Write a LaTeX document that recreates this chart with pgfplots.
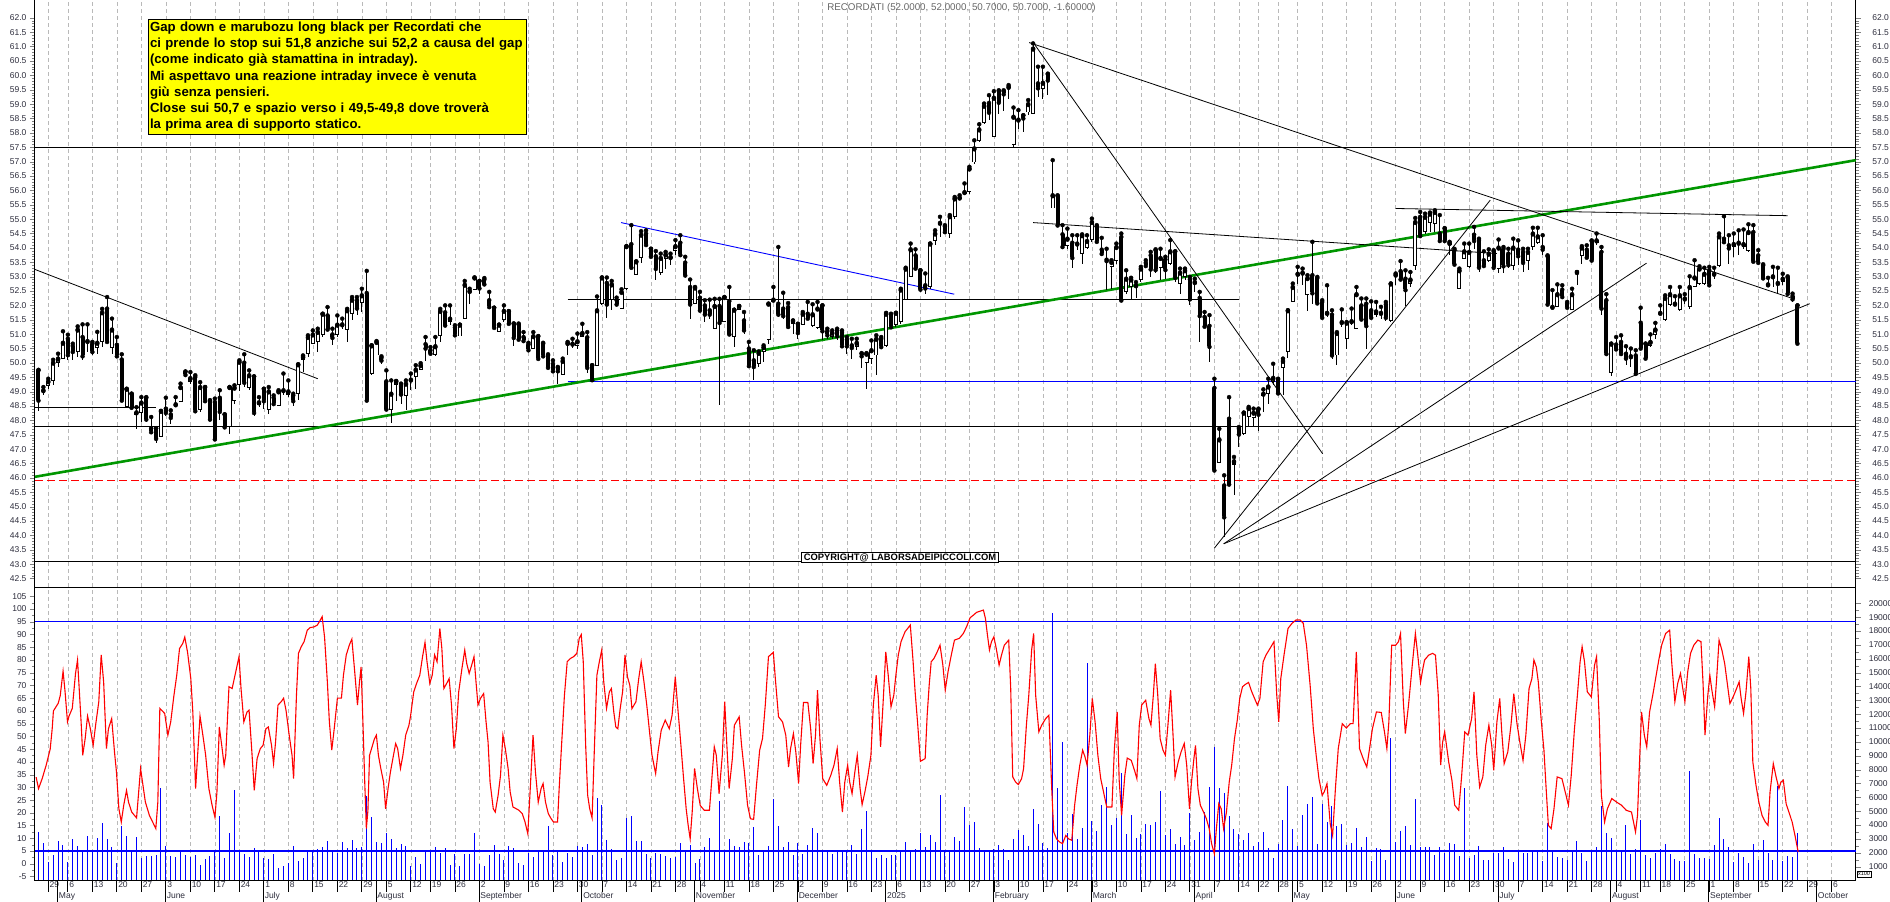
\documentclass[border=0pt]{standalone}
\usepackage{fontspec}
\setmainfont{Liberation Sans}
\usepackage{pgfplots}
\usepackage{pgfplotstable}
\pgfplotsset{compat=1.18}

\definecolor{gridgray}{RGB}{185,185,185}
\definecolor{ticktext}{RGB}{45,45,60}
\definecolor{trendgreen}{RGB}{0,150,0}
\definecolor{annoyellow}{RGB}{255,255,0}

\pgfplotsset{
  every tick label/.append style={font=\fontsize{8.5}{9}\selectfont, text=ticktext},
  /pgf/number format/assume math mode=true,
  panel/.style={at={(35pt,#1)}, anchor=south west, scale only axis,
    width=1820.7pt, xmin=-2.71, xmax=368.9},
}

% daily candles: trading day index, open, high, low, close
\pgfplotstableread{
x o h l c
-2 49.74 49.76 48.33 48.72
-1 49.05 49.16 48.87 49.05
0 49.21 49.45 49.10 49.36
1 49.36 50.11 49.22 50.01
2 50.01 50.32 49.86 50.15
3 50.15 51.10 50.15 50.70
4 50.84 50.98 50.11 50.30
5 50.59 50.67 50.09 50.41
6 50.38 51.27 50.21 51.16
7 50.90 51.34 50.09 50.26
8 50.76 51.34 50.38 50.76
9 50.67 50.73 50.26 50.41
10 50.53 51.08 50.30 50.70
11 50.73 51.88 50.55 51.76
12 51.89 52.29 50.76 50.76
13 50.52 51.54 50.30 51.16
14 50.63 50.90 50.21 50.26
15 50.12 50.30 48.66 48.72
16 48.47 49.10 48.47 49.10
17 48.93 48.93 48.47 48.47
18 48.20 48.46 47.71 48.28
19 48.27 48.81 47.94 48.62
20 48.79 48.81 47.94 48.06
21 47.73 48.12 47.62 47.62
22 47.73 47.73 47.21 47.39
23 47.42 48.33 47.42 48.33
24 48.41 48.79 48.17 48.29
25 48.21 48.35 47.88 48.12
26 48.56 48.81 48.47 48.56
27 48.64 49.28 48.64 49.16
28 49.70 49.70 49.57 49.61
29 49.34 49.68 49.28 49.47
30 49.51 49.57 48.35 48.35
31 48.35 49.33 48.29 49.16
32 49.16 49.16 48.70 48.70
33 48.70 48.70 48.00 48.06
34 48.64 48.76 47.35 47.37
35 48.79 49.05 48.00 48.33
36 48.21 48.21 47.71 47.79
37 47.77 49.16 47.54 49.16
38 48.67 49.22 48.58 49.14
39 49.24 50.09 49.02 50.04
40 50.01 50.30 49.16 49.34
41 49.14 49.74 49.05 49.57
42 49.53 49.53 48.14 48.29
43 48.52 48.81 48.47 48.63
44 49.10 49.10 48.41 48.70
45 48.35 49.16 48.23 49.01
46 48.79 48.87 48.53 48.60
47 48.50 49.05 48.50 49.01
48 49.05 49.63 48.87 49.05
49 48.89 49.39 48.81 49.01
50 48.87 48.93 48.50 48.70
51 48.93 49.95 48.72 49.95
52 50.09 50.26 49.68 50.21
53 50.32 50.96 50.21 50.90
54 50.67 51.13 50.67 50.99
55 50.73 51.19 50.38 51.08
56 50.96 51.71 50.90 51.71
57 51.65 51.94 51.19 51.19
58 50.99 51.19 50.61 50.90
59 50.96 51.65 50.90 51.33
60 51.34 51.54 51.19 51.34
61 51.16 51.88 50.73 51.83
62 51.71 52.29 51.48 52.20
63 52.18 52.29 51.65 51.92
64 52.08 52.58 51.77 52.35
65 52.43 53.20 48.64 48.72
66 49.60 50.61 49.57 50.61
67 50.26 50.76 50.26 50.73
68 50.18 50.23 49.97 50.11
69 49.36 49.74 48.33 48.41
70 48.35 49.39 47.91 48.93
71 49.24 49.37 48.67 49.37
72 49.20 49.28 48.58 48.93
73 48.85 49.39 48.35 49.28
74 49.42 49.63 49.05 49.42
75 49.51 49.92 49.10 49.77
76 49.77 49.99 49.74 49.92
77 50.65 50.90 50.07 50.53
78 50.44 50.55 50.32 50.35
79 50.29 50.90 50.23 50.58
80 50.94 51.88 50.73 51.81
81 51.76 52.00 51.33 51.33
82 51.42 52.00 51.31 51.54
83 51.24 51.31 50.90 50.99
84 50.92 51.33 50.92 51.33
85 51.54 52.85 51.54 52.72
86 52.50 52.58 52.06 52.50
87 52.55 52.97 52.53 52.97
88 52.85 52.85 52.41 52.62
89 52.90 52.95 52.70 52.76
90 52.18 52.47 51.95 51.97
91 51.92 51.92 51.25 51.25
92 51.08 51.33 51.08 51.33
93 51.48 52.00 51.42 51.81
94 51.80 51.80 51.39 51.39
95 51.37 51.37 50.59 50.90
96 51.34 51.37 50.79 50.84
97 50.90 51.07 50.79 50.79
98 50.64 50.70 50.47 50.47
99 50.50 51.07 50.50 50.93
100 50.93 50.93 50.17 50.17
101 50.67 50.70 50.26 50.26
102 50.26 50.30 49.86 49.86
103 49.97 50.09 49.68 49.74
104 49.83 49.86 49.28 49.74
105 49.59 50.15 49.59 50.07
106 50.69 50.73 50.26 50.69
107 50.67 50.84 50.53 50.67
108 50.58 51.02 50.50 50.75
109 50.90 51.36 50.90 51.04
110 50.89 51.07 49.65 49.86
111 49.92 49.92 49.43 49.43
112 49.89 52.31 49.89 51.83
113 52.06 52.97 52.00 52.97
114 52.78 52.97 51.57 52.06
115 52.20 52.85 51.83 52.73
116 52.18 52.27 52.00 52.06
117 51.89 52.56 51.89 52.47
118 52.56 54.06 52.53 54.06
119 54.13 54.79 53.34 53.34
120 53.05 53.53 53.05 53.53
121 53.65 54.58 53.48 54.46
122 54.50 54.61 54.09 54.13
123 53.97 53.97 53.72 53.72
124 53.71 53.89 52.87 53.30
125 53.14 53.80 53.05 53.65
126 53.63 53.86 53.28 53.77
127 53.68 53.80 53.40 53.68
128 53.89 54.27 53.74 54.06
129 54.18 54.44 53.78 53.78
130 53.49 53.69 53.02 53.07
131 52.64 52.90 51.54 52.06
132 52.06 52.64 52.06 52.62
133 52.27 52.47 51.83 51.85
134 52.00 52.18 51.42 51.71
135 51.83 52.20 51.54 51.71
136 51.19 52.23 51.19 51.98
137 51.98 52.23 48.52 51.42
138 51.42 52.29 51.42 52.29
139 52.15 52.64 51.02 51.02
140 50.90 51.85 50.55 51.85
141 51.85 51.98 51.85 51.98
142 51.48 51.77 50.99 51.16
143 50.50 50.73 49.92 49.92
144 50.09 50.44 49.39 49.89
145 49.95 50.40 49.86 50.35
146 50.38 50.61 50.03 50.55
147 50.81 52.06 50.67 52.06
148 52.12 52.64 52.12 52.20
149 52.06 54.03 51.60 51.71
150 51.89 52.44 51.54 51.66
151 51.94 52.08 51.17 51.28
152 51.34 51.48 51.02 51.46
153 51.36 51.36 50.84 51.07
154 51.33 51.77 51.31 51.71
155 51.71 52.12 51.54 51.57
156 51.28 52.04 51.25 51.69
157 51.23 52.12 51.19 51.89
158 52.00 52.00 50.78 51.13
159 51.11 51.19 50.84 50.99
160 50.90 51.13 50.84 51.05
161 51.13 51.19 50.78 50.96
162 51.07 51.13 50.55 50.61
163 50.81 50.90 50.32 50.61
164 50.61 50.84 50.15 50.55
165 50.55 50.84 50.44 50.70
166 50.32 50.34 49.83 50.26
167 50.01 50.34 49.10 50.32
168 50.15 50.78 49.97 50.44
169 50.26 50.96 49.57 50.84
170 50.84 50.90 50.55 50.58
171 50.58 51.74 50.55 51.71
172 51.69 51.71 51.19 51.27
173 51.33 51.74 51.25 51.74
174 51.42 52.58 51.36 52.55
175 52.18 53.31 52.18 53.28
176 52.99 54.15 52.99 53.95
177 53.74 53.95 53.25 53.31
178 53.22 53.22 52.47 52.58
179 52.70 53.11 52.41 52.62
180 52.64 54.15 52.58 54.15
181 54.24 54.61 54.09 54.50
182 54.79 55.08 54.38 54.87
183 54.75 54.79 54.50 54.58
184 54.50 55.14 54.36 55.10
185 55.08 55.77 55.02 55.72
186 55.75 55.83 55.66 55.75
187 55.86 56.24 55.83 55.94
188 55.95 56.82 55.89 56.76
189 56.97 57.74 56.93 57.46
190 57.72 58.30 57.69 58.12
191 58.36 59.02 58.30 58.94
192 59.04 59.31 58.46 58.73
193 57.86 59.45 57.86 59.22
194 59.46 59.48 58.65 59.08
195 59.45 59.48 58.77 59.37
196 59.60 59.66 59.19 59.60
197 57.57 58.88 57.51 58.56
198 58.46 58.79 58.15 58.46
199 58.61 58.61 58.03 58.53
200 58.71 59.14 58.62 59.00
201 58.67 61.11 58.67 60.93
202 59.72 60.30 59.25 59.58
203 59.54 60.30 59.19 59.74
204 60.04 60.06 59.31 59.85
205 55.37 57.05 55.37 55.83
206 55.81 55.83 54.73 54.81
207 54.47 54.79 54.03 54.06
208 54.06 54.67 53.97 54.32
209 54.18 54.44 53.31 53.68
210 54.15 54.44 53.92 54.15
211 53.80 54.47 53.45 54.44
212 54.01 54.44 53.97 54.24
213 54.27 55.02 54.21 54.90
214 54.75 54.79 54.21 54.24
215 53.94 54.35 53.80 53.82
216 53.59 53.97 52.55 53.57
217 53.33 53.57 52.58 53.51
218 53.53 54.15 53.45 54.03
219 54.38 54.50 52.12 52.20
220 52.47 53.22 52.41 52.93
221 52.64 52.96 52.24 52.90
222 52.70 52.81 52.26 52.70
223 52.87 53.34 52.81 53.28
224 53.48 53.57 53.34 53.40
225 53.74 53.86 52.99 53.28
226 53.92 53.95 53.11 53.26
227 53.31 53.97 52.87 53.65
228 53.60 53.69 52.93 53.26
229 53.45 54.27 53.40 53.88
230 53.88 53.88 52.81 52.99
231 52.73 53.28 52.41 53.14
232 52.99 53.28 52.87 53.22
233 52.91 52.99 52.03 52.24
234 52.73 52.93 52.47 52.81
235 52.26 52.47 50.73 51.66
236 51.60 51.77 51.25 51.29
237 51.29 51.66 50.03 50.59
238 49.13 49.45 46.29 46.29
239 46.53 47.71 46.53 47.34
240 45.74 46.09 43.94 44.66
241 48.06 48.81 45.80 45.80
242 46.46 46.73 45.41 46.58
243 47.71 47.77 47.07 47.54
244 47.54 48.27 47.48 48.27
245 48.12 48.47 47.77 48.43
246 48.10 48.41 47.77 48.27
247 48.39 48.41 47.62 48.23
248 48.85 49.08 48.29 48.93
249 48.93 49.45 48.58 49.18
250 49.34 49.97 49.22 49.48
251 49.43 49.45 48.87 48.97
252 49.82 50.15 48.87 50.07
253 50.38 51.83 50.17 51.83
254 52.12 52.76 52.12 52.64
255 53.01 53.34 52.76 53.10
256 53.14 53.28 52.70 53.14
257 52.35 53.05 51.80 52.95
258 53.05 54.21 52.06 52.45
259 52.95 52.99 52.06 52.10
260 52.12 52.18 51.60 51.60
261 51.66 52.70 51.60 51.74
262 51.68 51.83 50.12 50.29
263 50.26 51.07 49.94 51.04
264 51.42 51.86 51.25 51.42
265 50.82 51.42 50.50 51.40
266 51.45 51.89 51.31 51.45
267 51.17 52.64 51.17 52.39
268 52.00 52.24 51.54 51.54
269 52.06 52.24 50.47 51.31
270 51.83 52.14 51.54 51.60
271 51.68 52.12 51.60 51.79
272 51.74 51.95 51.54 51.74
273 52.04 52.12 51.45 51.60
274 51.45 52.76 51.42 52.76
275 53.07 53.11 52.70 53.07
276 53.19 53.54 52.87 52.93
277 52.93 53.22 51.98 52.56
278 52.76 53.16 52.64 52.90
279 53.36 55.04 53.22 54.90
280 55.08 55.25 54.38 54.44
281 54.56 55.19 54.50 55.08
282 54.88 55.23 54.55 55.19
283 54.82 55.31 54.55 55.25
284 54.50 55.14 54.27 54.27
285 54.67 54.69 54.21 54.27
286 54.09 54.21 53.74 54.17
287 53.92 53.97 53.40 53.45
288 52.56 53.28 52.56 53.22
289 53.63 54.15 53.60 53.88
290 53.34 54.15 53.31 53.86
291 54.46 54.73 53.95 54.27
292 54.27 54.32 53.16 53.34
293 53.57 53.88 53.34 53.40
294 53.53 53.95 53.51 53.80
295 53.88 53.92 53.31 53.34
296 53.28 54.29 53.11 54.01
297 53.97 54.03 53.11 53.39
298 53.80 53.97 53.31 53.43
299 53.36 54.32 53.24 54.01
300 53.94 54.26 53.40 53.74
301 53.86 53.97 53.16 53.51
302 53.55 53.97 53.22 53.86
303 54.03 54.70 53.92 54.50
304 54.17 54.70 54.13 54.40
305 54.03 54.44 53.74 53.97
306 53.71 53.74 52.04 52.06
307 51.95 52.53 51.92 51.95
308 51.95 52.73 51.95 52.39
309 52.55 52.70 52.29 52.32
310 52.06 52.12 51.92 51.95
311 51.85 52.58 51.83 52.39
312 53.16 53.16 52.70 53.16
313 53.71 54.06 53.43 54.01
314 53.94 54.09 53.63 53.69
315 54.24 54.26 53.57 53.59
316 54.17 54.50 54.09 54.26
317 53.86 54.03 51.66 51.92
318 52.18 52.39 50.34 50.34
319 49.65 50.67 49.53 50.67
320 50.64 50.90 50.46 50.50
321 50.73 50.96 50.34 50.34
322 50.32 50.58 49.92 50.18
323 50.23 50.50 49.86 50.23
324 50.26 50.44 49.63 49.65
325 51.40 51.92 50.53 50.53
326 50.67 50.67 50.11 50.18
327 50.58 50.99 50.55 50.73
328 50.96 51.39 50.84 51.16
329 51.74 52.00 51.69 51.74
330 51.48 52.35 51.45 52.26
331 52.00 52.64 51.97 52.39
332 52.00 52.32 51.97 52.06
333 51.83 52.64 51.80 52.35
334 52.24 52.39 52.06 52.24
335 51.95 53.01 51.89 52.64
336 52.64 53.57 52.64 52.97
337 52.73 53.36 52.70 53.28
338 52.73 53.31 52.70 53.10
339 53.22 53.34 52.70 52.73
340 53.04 53.31 52.93 53.10
341 53.36 54.50 53.34 54.40
342 54.32 55.10 54.21 54.23
343 54.09 54.44 53.43 54.01
344 54.04 54.50 53.69 54.13
345 54.12 54.61 53.74 54.18
346 54.03 54.64 53.97 54.13
347 53.90 54.82 53.86 54.55
348 54.55 54.79 53.51 53.55
349 53.74 53.92 53.48 53.51
350 53.39 53.43 52.90 52.97
351 52.73 52.96 52.73 52.73
352 53.01 53.34 52.64 53.01
353 52.78 53.31 52.39 52.78
354 52.82 53.10 52.70 52.93
355 52.97 53.01 52.41 52.43
356 52.32 52.41 52.12 52.24
357 52.00 52.00 50.70 50.70
}\candles

\newcommand{\weekticks}{0,4,9,14,19,24,29,34,39,44,49,54,59,64,69,74,78,83,88,93,98,103,108,113,118,123,128,133,138,143,148,153,158,163,168,173,178,183,188,193,198,203,208,213,218,223,228,233,238,243,247,251,255,260,265,270,275,280,285,290,295,300,305,310,315,320,325,329,334,339,344,349,354,359,364}

\begin{document}
\begin{tikzpicture}
\path[use as bounding box] (0,0) rectangle (1890pt,-902pt);

% weekly grid and date rows
\begin{axis}[panel=-880.5pt, height=880.5pt, ymin=0, ymax=1,
  axis x line*=bottom, axis y line=none,
  axis line style={black, line width=1pt},
  xtick/.expand once=\weekticks,
  xticklabels={29,6,13,20,27,3,10,17,24,1,8,15,22,29,5,12,19,26,2,9,16,23,30,7,14,21,28,4,11,18,25,2,9,16,23,6,13,20,27,3,10,17,24,3,10,17,24,31,7,14,22,28,5,12,19,26,2,9,16,23,30,7,14,21,28,4,11,18,25,1,8,15,22,29,6},
  xmajorgrids, major grid style={gridgray, dash pattern=on 4pt off 3pt, line width=0.7pt},
  tick align=outside, major tick length=11pt,
  xtick style={black, line width=0.8pt},
  xticklabel style={anchor=north west, inner sep=0.6pt, xshift=0.6pt, yshift=10.3pt},
  extra x ticks={1.9,23.9,43.9,66.9,87.9,108.9,131.9,152.9,170.9,192.9,212.9,233.9,253.9,274.9,295.9,318.9,338.9,360.9},
  extra x tick labels={May,June,July,August,September,October,November,December,2025,February,March,April,May,June,July,August,September,October},
  extra x tick style={grid=none, major tick length=21.5pt},
]
\draw[black, line width=1pt] ([yshift=-11pt]rel axis cs:0,0) -- ([yshift=-11pt]rel axis cs:1,0);
\end{axis}

% price panel
\begin{axis}[panel=-587.5pt, height=592.5pt, ymin=42.19, ymax=62.794,
  xtick=\empty,
  ytick={42.5,43,...,62}, minor y tick num=4,
  tick align=outside, major tick length=5pt, minor tick length=3pt,
  ytick pos=both, yticklabel pos=left,
  yticklabel style={/pgf/number format/.cd, fixed, fixed zerofill, precision=1},
  axis line style={black, line width=1pt},
]
\addplot[black, line width=1pt, forget plot] coordinates {(-2.71,57.5) (368.9,57.5)};
\addplot[black, line width=1pt, forget plot] coordinates {(-2.71,47.79) (368.9,47.79)};
\addplot[black, line width=1pt, forget plot] coordinates {(-2.71,43.09) (368.9,43.09)};
\addplot[black, line width=1pt, forget plot] coordinates {(-2.71,48.45) (22,48.45)};
\addplot[black, line width=1pt, forget plot] coordinates {(106,52.2) (243,52.2)};
\addplot[blue, line width=1pt, forget plot] coordinates {(106,49.35) (368.9,49.35)};
\addplot[red, line width=1.3pt, dash pattern=on 8pt off 4pt, forget plot] coordinates {(-2.71,45.92) (368.9,45.92)};
\addplot[trendgreen, line width=2.6pt, forget plot] coordinates {(-2.71,46.04) (368.9,57.05)};
\addplot[blue, line width=0.9pt, forget plot] coordinates {(116.9,54.88) (184.9,52.39)};
\addplot[black, line width=0.8pt, forget plot] coordinates {(-2.71,53.25) (55,49.45)};
\addplot[black, line width=0.8pt, forget plot] coordinates {(200.2,61.14) (356,52.24)};
\addplot[black, line width=0.8pt, forget plot] coordinates {(201.2,61.1) (260.1,46.84)};
\addplot[black, line width=0.8pt, forget plot] coordinates {(201,54.88) (296,53.80)};
\addplot[black, line width=0.8pt, forget plot] coordinates {(275,55.37) (355,55.12)};
\addplot[black, line width=0.8pt, forget plot] coordinates {(238,43.56) (294.3,55.66)};
\addplot[black, line width=0.8pt, forget plot] coordinates {(239.9,43.71) (326.2,53.47)};
\addplot[black, line width=0.8pt, forget plot] coordinates {(239.9,43.71) (359.5,52.06)};
% wicks
\addplot[only marks, mark=none, forget plot,
  error bars/.cd, y dir=minus, y explicit, error mark=none,
  error bar style={draw=black, line width=0.9pt}]
  table[x=x, y=h, y error minus expr=\thisrow{h}-\thisrow{l}] {\candles};
% bodies
\addplot[only marks, mark=none, forget plot,
  error bars/.cd, y dir=minus, y explicit, error mark=none,
  error bar style={draw=black, line width=4pt, line cap=butt}]
  table[x=x, y expr={max(\thisrow{o},\thisrow{c})},
        y error minus expr={max(abs(\thisrow{o}-\thisrow{c}),0.04)}] {\candles};
% hollow up candles
\addplot[only marks, mark=none, forget plot,
  error bars/.cd, y dir=minus, y explicit, error mark=none,
  error bar style={draw=white, line width=2.2pt, line cap=butt}]
  table[x=x, y expr={\thisrow{c}-0.032},
        y error minus expr={max(\thisrow{c}-\thisrow{o}-0.064,0)}] {\candles};
\end{axis}

% price labels on the right
\begin{axis}[panel=-587.5pt, height=592.5pt, ymin=42.19, ymax=62.794,
  axis x line=none, axis y line*=right, y axis line style={draw=none},
  ytick={42.5,43,...,62}, ytick style={draw=none},
  yticklabel style={xshift=13pt, /pgf/number format/.cd, fixed, fixed zerofill, precision=1},
]
\end{axis}

% volume (x100)
\begin{axis}[panel=-880.5pt, height=293pt, ymin=0, ymax=21140,
  axis x line=none, axis y line*=right,
  axis line style={black, line width=1pt},
  ytick={1000,2000,...,20000}, minor y tick num=1,
  tick align=outside, major tick length=5pt, minor tick length=3pt,
  scaled y ticks=false,
  yticklabel style={xshift=4.5pt, /pgf/number format/.cd, fixed, 1000 sep={}},
]
\addplot[blue, ycomb, line width=1pt] coordinates {
(-2,3474) (-1,2681) (0,1358) (1,1839) (2,2849) (3,2561) (4,1358) (5,2993) (6,2512) (7,2080) (8,3210) (9,2152) (10,3041) (11,4148) (12,2993) (13,2416) (14,1238) (15,3956) (16,3210) (17,2152) (18,3113) (19,1647) (20,1767) (21,1767) (22,1839) (23,6697) (24,2488) (25,1791) (26,1671) (27,2056) (28,1839) (29,1719) (30,1839) (31,1118) (32,1550) (33,1791) (34,2152) (35,4677) (36,1647) (37,3450) (38,6529) (39,2080) (40,1935) (41,1719) (42,2320) (43,2152) (44,1647) (45,1550) (46,1911) (47,925) (48,1069) (49,1286) (50,2512) (51,1430) (52,1647) (53,2176) (54,2224) (55,2272) (56,2416) (57,2849) (58,2056) (59,2007) (60,2777) (61,2344) (62,2921) (63,2320) (64,2416) (65,6096) (66,4605) (67,2777) (68,2729) (69,3450) (70,2993) (71,2320) (72,2657) (73,2512) (74,1069) (75,1719) (76,1213) (77,2176) (78,2080) (79,2392) (80,2007) (81,2368) (82,1118) (83,1911) (84,1069) (85,1911) (86,1911) (87,3450) (88,1213) (89,1045) (90,1839) (91,2561) (92,1935) (93,1478) (94,2512) (95,2368) (96,1286) (97,1118) (98,1983) (99,1695) (100,2176) (101,2176) (102,3956) (103,1839) (104,2176) (105,1334) (106,2007) (107,1719) (108,2512) (109,2440) (110,2657) (111,1839) (112,5976) (113,5447) (114,2921) (115,2272) (116,1478) (117,1598) (118,4484)
(119,4677) (120,2849) (121,2849) (122,1887) (123,1647) (124,1983) (125,1911) (126,1767) (127,1598) (128,1695) (129,2705) (130,2080) (131,2561) (132,1262) (133,1550) (134,2392) (135,3041) (136,2152) (137,5735) (138,2128) (139,2993) (140,2512) (141,2416) (142,2777) (143,2705) (144,3859) (145,1863) (146,2176) (147,2512) (148,5880) (149,3956) (150,2416) (151,2777) (152,1863) (153,2705) (154,1935) (155,2561) (156,3763) (157,3426) (158,2080) (159,2152) (160,1935) (161,2152) (162,2128) (163,2080) (164,2561) (165,1911) (166,3715) (167,5013) (168,2176) (169,1647) (170,1839) (171,1647) (172,1839) (173,1863) (174,2128) (175,2801) (176,2104) (177,2272) (178,3402) (179,2416) (180,3282) (181,2777) (182,6168) (183,2080) (184,2032) (185,3137) (186,2849) (187,5302) (188,4004) (189,4220) (190,2344) (191,2080) (192,2176) (193,2272) (194,2585) (195,2272) (196,1478) (197,2993) (198,3643) (199,3282) (200,2488) (201,5158) (202,4100) (203,2705) (204,2344) (205,19275) (206,6697) (207,10016) (208,3402) (209,4797) (210,3017) (211,3811) (212,15692) (213,4292) (214,3571) (215,5447) (216,6769) (217,4004) (218,4533) (219,7779) (220,3354) (221,4725) (222,3041) (223,3378) (224,4052) (225,4004) (226,4220) (227,6457) (228,3306) (229,3715) (230,2657) (231,3137) (232,2561) (233,4893) (234,2921) (235,3498) (236,4917) (237,6745) (238,9607) (239,6673) (240,6337) (241,4629) (242,3715) (243,3378) (244,2921) (245,3426) (246,2512) (247,2801)
(248,3522) (249,2320) (250,1598) (251,2632) (252,4364) (253,6817) (254,3715) (255,2512) (256,4725) (257,5519) (258,6024) (259,2632) (260,5495) (261,4196) (262,5351) (263,3956) (264,4100) (265,2585) (266,2729) (267,3787) (268,2392) (269,3137) (270,1406) (271,2320) (272,2248) (273,1478) (274,10305) (275,2777) (276,3571) (277,3956) (278,2561) (279,5880) (280,2392) (281,2392) (282,2440) (283,1839) (284,2416) (285,2007) (286,2705) (287,2632) (288,1767) (289,6697) (290,1647) (291,1839) (292,2512) (293,1478) (294,1478) (295,2007) (296,2007) (297,2392) (298,1526) (299,1310) (300,2152) (301,2007) (302,2007) (303,2080) (304,2080) (305,1406) (306,4124) (307,2056) (308,1719) (309,1623) (310,1454) (311,2176) (312,2849) (313,2007) (314,1406) (315,2152) (316,2416) (317,5399) (318,3450) (319,3065) (320,2080) (321,2176) (322,4004) (323,1935) (324,2272) (325,4388) (326,1839) (327,1623) (328,2007) (329,2272) (330,2632) (331,1935) (332,1574) (333,1382) (334,1430) (335,7900) (336,1911) (337,1623) (338,1623) (339,1526) (340,2561) (341,4484) (342,2993) (343,2416) (344,1334) (345,2007) (346,1719) (347,1262) (348,2632) (349,1478) (350,2921) (351,2007) (352,1478) (353,6800) (354,1406) (355,1767) (356,1695) (357,3450)
};
\end{axis}

% oscillator
\begin{axis}[panel=-880.5pt, height=293pt, ymin=-6.57, ymax=108.45,
  xtick=\empty,
  ytick={-5,0,...,105}, ytick pos=left, minor y tick num=1,
  tick align=outside, major tick length=5pt, minor tick length=3pt,
  axis line style={black, line width=1pt},
]
\addplot[blue, line width=1.1pt] coordinates {(-2.71,95) (368.9,95)};
\addplot[blue, line width=1.1pt] coordinates {(-2.71,5) (368.9,5)};
\addplot[red, line width=1.1pt] coordinates {
(-2.48,34) (-1.99,29.5) (-1.25,33.4) (-0.43,38.7) (0.39,45) (0.80,53) (1.05,60) (2.03,63) (2.44,66) (3.02,75.6) (3.43,67.5) (3.92,55.7) (4.24,58) (4.90,61) (5.56,74.7) (5.97,80) (6.29,69.5) (6.70,55.7) (7.03,42.6) (7.52,49) (8.02,58) (8.59,53) (9.16,46.5) (9.66,54.4) (10.31,63.6) (10.80,82) (11.30,71.4) (11.87,45.2) (12.28,53) (12.94,57) (13.51,44) (13.92,36) (14.41,21.6) (14.90,16.4) (15.40,23) (15.97,28.8) (16.38,24.2) (17.03,20.3) (18.02,18) (18.84,37.4) (19.33,30.8) (19.82,24.2) (20.64,19) (21.30,16.4) (21.95,13.8) (22.36,24.2) (22.77,61) (23.76,59) (24.41,50.5) (24.99,55.7) (25.64,66) (26.22,74) (26.79,84.5) (27.45,86.5) (27.86,89) (28.43,83) (29.09,72.7) (29.50,59.6) (30.07,29.5) (30.48,42.6) (30.97,58) (31.55,50.5) (32.12,42.6) (32.78,29.5) (33.43,23) (34.01,18.3) (34.42,28) (34.91,53.7) (35.40,46.5) (35.89,38.7) (36.22,42.6) (36.88,69.5) (37.53,68.8) (38.11,74) (38.93,81.3) (39.34,68.8) (39.91,55.7) (40.57,59.6) (40.98,60.3) (41.55,44) (42.04,28.8) (42.62,41.3) (43.27,45.2) (43.84,46.5) (44.42,53) (44.91,53.7) (45.57,46.5) (45.98,39.3) (46.39,47.8) (46.88,62.3) (47.53,63.6) (48.03,65) (48.52,60.3) (49.17,50.5) (49.75,42.6) (50.07,33.4) (50.65,66) (51.06,82.6) (51.63,85.2) (52.21,87.2) (52.86,91.7) (53.44,92.7) (54.26,93) (54.91,93.7) (55.32,95) (55.90,97) (56.39,89) (56.96,71.4) (57.37,55.7) (57.86,44.6) (58.36,53) (59.01,65) (59.83,65) (60.24,74) (60.82,82) (61.47,86) (61.96,88.2) (62.54,75.4) (63.11,62.3) (63.52,71.4) (63.85,77.3) (64.26,53) (64.59,32) (64.92,13.8) (65.24,21) (65.57,42.6) (65.98,45.2) (66.56,49) (66.97,50.5) (67.38,42.6) (67.87,37.4) (68.44,32) (68.85,21.6) (69.35,29.5) (69.83,36) (70.33,41.3) (70.90,47.2) (71.31,45.2) (71.88,37.4) (72.38,42.6) (72.95,50.5) (73.61,54.4) (73.94,58) (74.59,67.5) (75.17,70.8) (75.82,74) (76.39,81.3) (76.89,86.9) (77.30,79.3) (77.87,70.8) (78.36,74) (78.85,82) (79.35,79.3) (79.92,92.4) (80.33,84.5) (80.74,68.8) (81.31,70.8) (81.81,72.7) (82.30,62.3) (82.79,45.2) (83.28,53) (83.77,67.5) (84.43,76.7) (85.00,83.9) (85.41,78.6) (85.90,74.7) (86.40,77.9) (86.89,81.3) (87.30,71.4) (87.70,62.3) (88.20,64.9) (88.86,66.8) (89.35,55.7) (89.76,47.8) (90.17,32) (90.82,21.6) (91.23,20.3) (91.81,26.9) (92.30,34.7) (92.79,50.5) (93.28,45.2) (93.85,37.4) (94.27,28.2) (94.84,22.3) (95.50,21.6) (96.07,21) (96.73,19.7) (97.30,16.4) (97.87,11.8) (98.37,29.5) (98.94,50.5) (99.43,36) (100.00,24.2) (100.58,29.5) (100.99,31.5) (101.48,24.2) (102.05,19.7) (102.63,17.7) (103.12,16.4) (103.94,16.4) (104.27,29.5) (104.76,46.5) (105.34,66) (105.91,79.3) (106.57,80.6) (107.22,81.3) (107.88,82.6) (108.37,88.5) (108.78,90) (109.19,79.3) (109.68,46.5) (110.09,26.9) (110.50,21.6) (110.99,18) (111.48,46.5) (111.97,74) (112.47,79.3) (112.96,83.9) (113.37,71.4) (113.94,61) (114.52,67.5) (114.93,68.8) (115.42,59.6) (115.83,53.7) (116.24,53) (116.73,61) (117.22,67.5) (117.71,82) (118.21,73.4) (118.70,70)
(119.12,60.9) (119.94,63.6) (120.51,72.7) (121.01,79.3) (121.58,71.4) (122.15,62.3) (122.65,53) (123.22,42.6) (123.96,35.4) (124.45,43.9) (125.10,52.4) (125.92,56.4) (126.74,53) (127.32,58.3) (127.97,73.4) (128.55,59.6) (129.12,46.5) (129.61,34.7) (130.19,21.6) (130.60,15.1) (131.01,9.8) (131.42,20.3) (131.91,37.4) (132.48,29.5) (133.06,22.9) (133.88,21) (134.94,21) (135.93,45.9) (136.34,42.6) (136.91,27.5) (137.57,42.6) (138.06,63.6) (138.39,50.5) (138.96,29.5) (139.62,41.3) (140.03,54.4) (141.01,57.7) (141.50,46.5) (142.08,36) (142.73,22.9) (143.31,17.7) (143.96,17.4) (144.54,30.8) (145.19,44.6) (145.77,49.1) (146.34,62.3) (146.99,81.3) (147.98,83) (148.39,72.7) (149.04,57.7) (149.86,55.7) (150.52,50.5) (151.09,38) (151.50,45.2) (152.08,51.1) (152.57,43.9) (153.14,31.5) (153.55,46.5) (154.13,63.3) (155.03,63.3) (155.60,53) (156.10,39.3) (156.59,50.5) (157.00,68.2) (157.49,49.1) (158.06,33.4) (158.88,30.8) (159.70,34.7) (160.36,38.7) (161.02,45.2) (161.51,32.1) (162.08,20.3) (162.57,32.1) (163.15,38.7) (163.56,32.1) (164.05,27.5) (164.62,36) (165.11,42.6) (165.69,29.5) (166.10,23.2) (166.67,28.2) (167.25,34.1) (167.90,42.6) (168.39,62.3) (168.97,74) (169.38,66.2) (169.87,45.9) (170.36,62.3) (170.93,83.2) (171.43,74) (172.00,61.6) (172.57,66.2) (172.99,74) (173.48,81.9) (174.05,87.2) (174.87,91.1) (175.94,93.7) (176.51,79.3) (176.92,67.5) (177.41,55.7) (177.99,40.2) (178.97,41.3) (179.38,58.3) (179.79,70.1) (180.20,79.3) (180.77,80.6) (181.43,83.2) (182.00,85.8) (182.58,78) (183.07,68.2) (183.64,75.4) (184.30,81.9) (184.95,87.8) (185.94,88.5) (186.76,90.4) (187.41,93) (188.15,96.6) (188.81,97.6) (189.47,98.7) (190.86,99.6) (191.27,96.3) (191.68,89.8) (192.09,83.9) (192.50,87.2) (192.99,89.1) (193.48,84.5) (194.06,78) (194.55,81.9) (195.12,85.8) (196.02,87.8) (196.43,68.8) (196.84,34.1) (197.42,32.1) (197.99,31.1) (198.65,33.4) (199.06,37.4) (199.63,54.4) (200.12,66.2) (200.70,83.9) (201.11,90.4) (201.52,66.2) (202.17,51.8) (202.75,54.4) (203.57,57) (204.22,58.3) (204.80,29.5) (205.21,12.5) (205.78,9.8) (206.44,8.5) (207.01,7.9) (207.67,11.1) (208.24,9.8) (208.89,9.2) (209.47,22.9) (209.96,30.8) (210.53,38.7) (211.11,44.6) (211.60,41.9) (212.01,38.7) (212.58,50.5) (213.08,64.9) (213.65,55.7) (214.22,42.6) (214.80,33.4) (215.45,27.5) (216.03,22.3) (217.09,22.3) (217.59,45.2) (218.16,59.6) (218.57,32.8) (219.06,19) (219.72,34.7) (220.21,41.5) (221.03,40.6) (221.69,36.7) (222.18,33.4) (222.67,54.4) (223.16,62.3) (223.98,64.2) (224.64,57) (225.05,54.4) (225.54,66.2) (225.95,78.6) (226.44,66.2) (226.93,49.1) (227.51,44.6) (228.00,42.6) (228.57,55.7) (229.07,68.2) (229.56,50.5) (229.97,34.1) (230.62,40) (231.20,43.9) (231.85,47.2) (232.35,38.7) (232.92,21.6) (233.33,32.1) (233.82,41.3) (234.15,46.5) (234.64,29.5) (235.13,23) (235.79,20.3) (236.36,17.7) (236.94,13.8) (237.43,7.9) (238.00,3.9) (238.41,13.8) (238.90,23.6) (239.39,21.6) (239.88,13.8) (240.46,20.3) (241.03,32.1) (241.53,38.7) (242.10,49.1) (242.67,56.4) (243.17,64.9) (243.74,69.5) (244.31,70.4) (244.97,71.2) (245.63,67.5) (246.20,64.9) (246.77,62.3)
(247.29,64.9) (247.95,79.3) (248.52,81.9) (249.34,84.5) (250.16,87.2) (250.73,66.2) (251.14,55.7) (251.55,72.7) (252.21,81.9) (253.03,92.4) (253.85,94.4) (254.67,95.7) (255.49,95.7) (256.14,94.4) (256.80,85.8) (257.54,70.1) (258.19,53) (258.77,42.6) (259.34,33.4) (260.00,26.9) (260.41,28.2) (260.98,31.5) (261.64,15.7) (262.13,11.1) (262.70,29.5) (263.28,45.2) (264.10,55) (264.92,53.3) (265.74,55) (266.31,55) (266.97,83.2) (267.62,45.2) (268.36,41.3) (269.10,38) (269.67,45.2) (270.25,53) (271.07,59.6) (272.05,59.4) (272.71,51.8) (273.20,45.2) (273.61,55.7) (274.18,85.8) (275.00,85.8) (275.58,87.2) (275.99,90.4) (276.56,63.6) (276.97,51.1) (277.62,62.3) (278.45,79.3) (279.02,90.4) (279.51,81.9) (280.08,71.2) (280.50,76.1) (280.90,80) (281.73,81.9) (282.54,82.6) (283.12,81.9) (283.69,66.2) (284.18,38.7) (284.59,47.8) (285.00,51.8) (285.41,45.9) (285.82,40) (286.48,32.8) (287.05,23) (287.87,21) (288.45,34.1) (289.10,51.8) (289.76,50.5) (290.50,57) (290.99,67.5) (291.56,42.6) (292.14,30.1) (292.79,34.1) (293.37,46.5) (294.02,54.4) (294.60,46.5) (295.01,36.7) (295.66,55.7) (296.24,64.9) (296.65,51.8) (297.14,39.3) (297.88,43.9) (298.53,54.4) (299.11,66.8) (299.76,55) (300.34,47.8) (300.99,40.6) (301.57,50.5) (302.22,68.8) (302.80,72.7) (303.21,80) (303.70,77.3) (304.11,71.4) (304.68,57) (305.26,44.6) (305.67,30.8) (306.16,15.1) (306.73,13.8) (307.31,21.6) (307.96,34.1) (308.94,33.4) (309.60,28.2) (310.26,23) (310.83,34.7) (311.49,53) (312.06,65.5) (312.64,79.3) (313.05,85.2) (313.54,79.3) (314.11,67.5) (314.93,65.5) (315.59,78) (316.00,81.3) (316.57,55.7) (316.98,26.9) (317.64,16.4) (318.21,21.6) (319.11,25.6) (320.09,24.2) (321.08,23) (322.06,21) (323.13,20.3) (323.95,12.5) (324.36,19) (324.77,40) (325.18,59.6) (325.75,50.5) (326.24,45.9) (326.82,59.6) (327.47,66.2) (328.05,72.7) (328.70,80) (329.28,85.8) (330.10,90.4) (330.92,91.7) (331.33,79.3) (331.98,63.6) (332.56,70.8) (333.13,74.7) (333.54,69.5) (334.03,63.6) (334.61,75.4) (335.18,82.6) (335.84,85.8) (336.66,87.8) (337.31,87.2) (337.72,71.4) (338.13,50.5) (338.71,66.2) (339.12,74) (339.53,68.2) (340.10,61.6) (340.51,72.7) (341.00,87.8) (341.58,83.9) (342.15,78.6) (342.64,71.4) (343.22,62.9) (343.87,65.5) (344.45,68.2) (345.10,71.4) (345.51,64.9) (346.00,59) (346.50,67.5) (347.07,81.3) (347.48,68.8) (347.89,40) (348.54,30.8) (349.12,24.2) (349.77,19) (350.43,16.4) (351.00,15.1) (351.41,28.2) (352.07,39.3) (352.64,34.1) (353.22,29.5) (353.63,32.1) (354.12,32.8) (354.69,23.6) (355.35,19.7) (355.92,16.4) (356.50,11.1) (357.15,4.6)
};
\end{axis}

\node[font=\fontsize{9.8}{10}\selectfont, text=black!60] at (961.5pt,-8pt)
  {RECORDATI (52.0000, 52.0000, 50.7000, 50.7000, -1.60000)};
\node[draw=black, line width=1pt, fill=annoyellow, anchor=north west, align=left,
  inner xsep=2pt, inner ysep=2.5pt, text width=374pt, minimum height=113pt,
  font=\bfseries\fontsize{13.2}{16.2}\selectfont] at (147.5pt,-19pt)
  {Gap down e marubozu long black per Recordati che\\
   ci prende lo stop sui 51,8 anziche sui 52,2 a causa del gap\\
   (come indicato già stamattina in intraday).\\
   Mi aspettavo una reazione intraday invece è venuta\\
   giù senza pensieri.\\
   Close sui 50,7 e spazio verso i 49,5-49,8 dove troverà\\
   la prima area di supporto statico.};
\node[draw=black, line width=0.8pt, fill=white, inner xsep=2pt, inner ysep=1pt,
  font=\bfseries\fontsize{9.4}{10}\selectfont] at (900pt,-557.5pt)
  {COPYRIGHT@ LABORSADEIPICCOLI.COM};
\node[draw=black, line width=0.5pt, fill=white, inner sep=0.8pt, anchor=north west,
  font=\fontsize{5.5}{6}\selectfont] at (1857pt,-871pt) {x100};
\end{tikzpicture}
\end{document}
